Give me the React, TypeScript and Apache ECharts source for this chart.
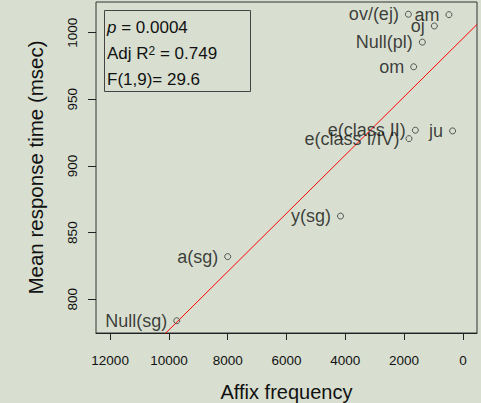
import React, { useEffect, useRef } from 'react';
import * as echarts from 'echarts';

// ---- data ----
const pointLabels = ['ov/(ej)', 'am', 'oj', 'Null(pl)', 'om', 'e(class II)', 'e(class I/IV)', 'ju', 'y(sg)', 'a(sg)', 'Null(sg)'];
const affixFrequency = [1854, 475, 971, 1379, 1674, 1617, 1834, 350, 4163, 8001, 9733];
const meanResponse = [1013.8, 1013.5, 1005, 992.9, 974.4, 926.8, 920.5, 926.3, 862.4, 832, 783.9];
const xTicks = [0, 2000, 4000, 6000, 8000, 10000, 12000];
const yTicks = [800, 850, 900, 950, 1000];
const xLimits = [0, 12000];
const statP = '0.0004';
const statR2 = '0.749';
const statF = 'F(1,9)= 29.6';

const FONT = '"Liberation Sans", Arial, sans-serif';
const BG = '#D8DFD0';
const INK = '#111111';
const AXIS = '#222222';

function fit(xs: number[], ys: number[]) {
  const n = xs.length;
  const mx = xs.reduce((a, b) => a + b, 0) / n;
  const my = ys.reduce((a, b) => a + b, 0) / n;
  let sxy = 0, sxx = 0;
  for (let i = 0; i < n; i++) {
    sxy += (xs[i] - mx) * (ys[i] - my);
    sxx += (xs[i] - mx) * (xs[i] - mx);
  }
  const slope = sxy / sxx;
  return { slope, intercept: my - slope * mx };
}

export default function App() {
  const ref = useRef<HTMLDivElement>(null);
  useEffect(() => {
    if (!ref.current) return;
    const chart = echarts.init(ref.current, null, { renderer: 'svg' });

    const xPad = (xLimits[1] - xLimits[0]) * 0.04;
    const xMin = xLimits[0] - xPad;
    const xMax = xLimits[1] + xPad;
    const yLo = Math.min(...meanResponse);
    const yHi = Math.max(...meanResponse);
    const yPad = (yHi - yLo) * 0.04;
    const yMin = yLo - yPad;
    const yMax = yHi + yPad;

    const { slope, intercept } = fit(affixFrequency, meanResponse);
    const lineData = [xMin, xMax].map((x) => [x, intercept + slope * x]);

    const scatterData = affixFrequency.map((x, i) => ({ value: [x, meanResponse[i]], name: pointLabels[i] }));

    chart.setOption({
      animation: false,
      backgroundColor: BG,
      textStyle: { fontFamily: FONT },
      grid: {
        left: 96,
        right: 4,
        top: 2,
        bottom: 70,
        containLabel: false,
        outerBoundsMode: 'none',
        show: true,
        borderColor: '#333',
        borderWidth: 1,
        backgroundColor: 'transparent',
      },
      xAxis: {
        type: 'value',
        inverse: true,
        min: xMin,
        max: xMax,
        name: 'Affix frequency',
        nameLocation: 'middle',
        nameGap: 49,
        nameTextStyle: { fontSize: 20, color: INK, fontFamily: FONT },
        axisLine: { show: true, onZero: false, lineStyle: { color: AXIS, width: 1 } },
        splitLine: { show: false },
        axisTick: { show: true, length: 7, lineStyle: { color: AXIS }, customValues: xTicks },
        axisLabel: {
          fontSize: 13.5, color: INK, margin: 20, fontFamily: FONT, customValues: xTicks,
          formatter: (v: number) => String(Math.round(v)),
        },
      },
      yAxis: {
        type: 'value',
        min: yMin,
        max: yMax,
        name: 'Mean response time (msec)',
        nameLocation: 'middle',
        nameGap: 50,
        nameTextStyle: { fontSize: 20.5, color: INK, fontFamily: FONT },
        axisLine: { show: false, onZero: false },
        splitLine: { show: false },
        axisTick: { show: true, length: 8, lineStyle: { color: AXIS }, customValues: yTicks },
        axisLabel: {
          fontSize: 13.5, color: INK, margin: 17, rotate: 90, fontFamily: FONT, customValues: yTicks,
          formatter: (v: number) => String(Math.round(v)),
        },
      },
      series: [
        {
          type: 'line',
          data: lineData,
          showSymbol: false,
          symbol: 'none',
          clip: true,
          lineStyle: { color: '#FF0000', width: 1 },
          silent: true,
          z: 1,
        },
        {
          type: 'scatter',
          data: scatterData,
          symbol: 'circle',
          symbolSize: 6,
          itemStyle: { color: 'rgba(0,0,0,0)', borderColor: '#333', borderWidth: 1 },
          label: {
            show: true,
            position: 'left',
            distance: 6,
            formatter: (p: any) => p.name,
            fontSize: 18,
            color: INK,
            fontFamily: FONT,
          },
          z: 2,
        },
      ],
      graphic: [
        {
          type: 'rect',
          shape: { x: 104.5, y: 10.5, width: 146, height: 81 },
          style: { fill: 'transparent', stroke: '#444', lineWidth: 1 },
        },
        {
          type: 'text',
          x: 107,
          y: 27,
          style: {
            text: '{i|p} = ' + statP,
            fontSize: 17,
            fontFamily: FONT,
            fill: INK,
            verticalAlign: 'middle',
            rich: { i: { fontStyle: 'italic', fontSize: 17, fontFamily: FONT, fill: INK } },
          },
        },
        {
          type: 'text',
          x: 107,
          y: 53,
          style: {
            text: 'Adj R{s|2} = ' + statR2,
            fontSize: 17,
            fontFamily: FONT,
            fill: INK,
            verticalAlign: 'middle',
            rich: { s: { fontSize: 12, fontFamily: FONT, fill: INK, verticalAlign: 'top' } },
          },
        },
        {
          type: 'text',
          x: 107,
          y: 79,
          style: {
            text: statF,
            fontSize: 17,
            fontFamily: FONT,
            fill: INK,
            verticalAlign: 'middle',
          },
        },
      ],
    });
    return () => chart.dispose();
  }, []);
  return <div ref={ref} style={{ position: 'fixed', left: 0, top: 0, width: 481, height: 403 }} />;
}
